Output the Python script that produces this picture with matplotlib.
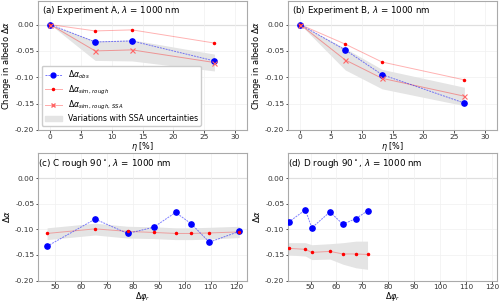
import numpy as np
import matplotlib
matplotlib.use("Agg")
import matplotlib.pyplot as plt

# ── Data: experiments A and B ────────────────────────────────────────────────
eta = [0, 7.3, 13.3, 26.7]

a_obs = [0, -0.033, -0.031, -0.069]
a_rough = [0, -0.012, -0.010, -0.035]
a_ssa = [0, -0.050, -0.048, -0.072]
a_band_hi = [0, -0.031, -0.029, -0.056]
a_band_lo = [0, -0.068, -0.069, -0.088]

b_obs = [0, -0.048, -0.095, -0.149]
b_rough = [0, -0.037, -0.071, -0.105]
b_ssa = [0, -0.067, -0.102, -0.136]
b_band_hi = [0, -0.045, -0.085, -0.119]
b_band_lo = [0, -0.086, -0.122, -0.154]

# ── Data: rough 90° cases C and D ────────────────────────────────────────────
c_phi = [47, 65.5, 78, 88, 96.5, 102.5, 109.5, 121]
c_obs = [-0.133, -0.080, -0.108, -0.096, -0.067, -0.089, -0.125, -0.104]
c_rough = [-0.108, -0.099, -0.104, -0.106, -0.108, -0.108, -0.107, -0.105]
c_band_hi = [-0.097, -0.088, -0.094, -0.095, -0.097, -0.097, -0.096, -0.094]
c_band_lo = [-0.120, -0.111, -0.117, -0.118, -0.120, -0.120, -0.119, -0.116]

d_phi = [41.5, 48, 50.5, 57.5, 62.5, 67.5, 72]
d_obs = [-0.086, -0.062, -0.097, -0.066, -0.090, -0.079, -0.064]
d_rough = [-0.137, -0.139, -0.145, -0.143, -0.148, -0.148, -0.149]
d_band_hi = [-0.126, -0.126, -0.130, -0.128, -0.126, -0.123, -0.123]
d_band_lo = [-0.150, -0.152, -0.159, -0.158, -0.168, -0.175, -0.178]

plt.rcParams["font.size"] = 6.3
plt.rcParams["xtick.labelsize"] = 5.3
plt.rcParams["ytick.labelsize"] = 5.3

fig = plt.figure(figsize=(5.0, 3.05), dpi=100)
ax_a = fig.add_axes([0.076, 0.574, 0.418, 0.423])
ax_b = fig.add_axes([0.576, 0.574, 0.418, 0.423])
ax_c = fig.add_axes([0.076, 0.08, 0.418, 0.42])
ax_d = fig.add_axes([0.576, 0.08, 0.418, 0.42])

BAND = "#e4e4e4"


def style(ax):
    for s in ax.spines.values():
        s.set_color("#aaaaaa")
        s.set_linewidth(0.8)
    ax.tick_params(colors="#333333", length=1.8, width=0.6, pad=0.8)
    ax.grid(color="#f0f0f0", linewidth=0.5)
    ax.axhline(0, color="#bbbbbb", linewidth=0.8, zorder=1)


def draw(ax, x, obs, rough, lo, hi, ssa=None):
    ax.fill_between(x, lo, hi, color=BAND, linewidth=0, zorder=2)
    ax.plot(x, obs, color="blue", linestyle=(0, (2, 1)), linewidth=0.7,
            alpha=0.5, zorder=4)
    ax.plot(x, obs, "o", color="blue", markersize=3.8, zorder=5)
    ax.plot(x, rough, color="red", linewidth=0.7, alpha=0.3, zorder=3)
    ax.plot(x, rough, ".", color="red", markersize=3, zorder=5)
    if ssa is not None:
        ax.plot(x, ssa, color="red", linewidth=0.7, alpha=0.35, zorder=3)
        ax.plot(x, ssa, "x", color="#ff6666", markersize=3.6,
                markeredgewidth=0.8, zorder=5)


for ax, obs, rough, ssa, lo, hi, title in [
    (ax_a, a_obs, a_rough, a_ssa, a_band_lo, a_band_hi,
     r"(a) Experiment A, $\lambda$ = 1000 nm"),
    (ax_b, b_obs, b_rough, b_ssa, b_band_lo, b_band_hi,
     r"(b) Experiment B, $\lambda$ = 1000 nm"),
]:
    style(ax)
    draw(ax, eta, obs, rough, lo, hi, ssa)
    ax.set_xlim(-2, 32)
    ax.set_ylim(-0.2, 0.045)
    ax.set_xticks([0, 5, 10, 15, 20, 25, 30])
    ax.set_yticks([0, -0.05, -0.1, -0.15, -0.2])
    ax.yaxis.set_major_formatter(matplotlib.ticker.FormatStrFormatter("%.2f"))
    ax.set_xlabel(r"$\eta$ [%]", fontsize=5.8, labelpad=0)
    ax.set_ylabel(r"Change in albedo $\Delta\alpha$", fontsize=6.0, va="center")
    ax.yaxis.set_label_coords(-0.15, 0.5)
    ax.text(0.02, 0.975, title, transform=ax.transAxes, ha="left", va="top",
            fontsize=6.3)

# legend for panel (a)
h_obs = plt.Line2D([], [], color="#7777ff", linestyle=(0, (2, 1)), linewidth=0.7,
                   marker="o", markersize=3.5, markerfacecolor="blue",
                   markeredgecolor="blue")
h_rough = plt.Line2D([], [], color="#ffaaaa", linewidth=0.7, marker=".",
                     markersize=3, markerfacecolor="red", markeredgecolor="red")
h_ssa = plt.Line2D([], [], color="#ffaaaa", linewidth=0.7, marker="x",
                   markersize=3.5, markeredgecolor="#ff6666")
h_band = matplotlib.patches.Patch(color=BAND)
ax_a.legend([h_obs, h_rough, h_ssa, h_band],
            [r"$\Delta\alpha_{obs}$", r"$\Delta\alpha_{sim,\, rough}$",
             r"$\Delta\alpha_{sim,\, rough,\, SSA}$",
             "Variations with SSA uncertainties"],
            loc="lower left", fontsize=5.6, framealpha=1, edgecolor="#cccccc",
            borderpad=0.35, labelspacing=0.3, handlelength=2.2,
            bbox_to_anchor=(0.0, 0.0))

for ax, x, obs, rough, lo, hi, xlim, title in [
    (ax_c, c_phi, c_obs, c_rough, c_band_lo, c_band_hi, (43.5, 124),
     r"(c) C rough 90$^\circ$, $\lambda$ = 1000 nm"),
    (ax_d, d_phi, d_obs, d_rough, d_band_lo, d_band_hi, (41.3, 122),
     r"(d) D rough 90$^\circ$, $\lambda$ = 1000 nm"),
]:
    style(ax)
    draw(ax, x, obs, rough, lo, hi)
    ax.set_xlim(*xlim)
    ax.set_ylim(-0.2, 0.05)
    ax.set_xticks([50, 60, 70, 80, 90, 100, 110, 120])
    ax.set_yticks([0, -0.05, -0.1, -0.15, -0.2])
    ax.yaxis.set_major_formatter(matplotlib.ticker.FormatStrFormatter("%.2f"))
    ax.set_xlabel(r"$\Delta\varphi_r$", fontsize=5.8, labelpad=0)
    ax.set_ylabel(r"$\Delta\alpha$", fontsize=6.0, va="center")
    ax.yaxis.set_label_coords(-0.15, 0.5)
    ax.text(0.0, 0.965, title, transform=ax.transAxes, ha="left", va="top",
            fontsize=6.3)

fig.savefig("out.png", dpi=100)
